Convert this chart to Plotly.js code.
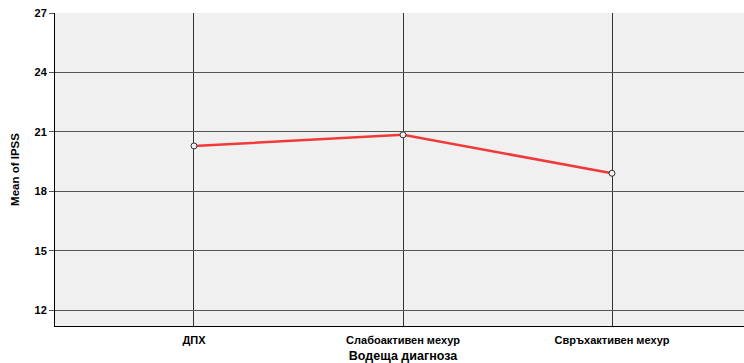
<!DOCTYPE html>
<html><head><meta charset="utf-8">
<script src="https://cdn.plot.ly/plotly-3.0.1.min.js"></script>
<style>html,body{margin:0;padding:0;overflow:hidden;background:#fff;width:744px;height:363px}</style>
</head><body><div id="chart"></div>
<script>
const categories = ["ДПХ", "Слабоактивен мехур", "Свръхактивен мехур"];
const meanIPSS = [20.29, 20.85, 18.91];
const yTicks = [12, 15, 18, 21, 24, 27];

const trace = {
  x: categories,
  y: meanIPSS,
  type: "scatter",
  mode: "lines+markers",
  line: {color: "#f03a3a", width: 2.5},
  marker: {symbol: "circle", size: 6, color: "#f0f0f0", line: {color: "#333", width: 1}},
  hoverinfo: "skip"
};

const layout = {
  width: 751, height: 363,
  margin: {l: 55, r: 0, t: 13, b: 37},
  paper_bgcolor: "#ffffff",
  plot_bgcolor: "#f0f0f0",
  showlegend: false,
  font: {family: "Liberation Sans, Arial, sans-serif", color: "#000"},
  xaxis: {
    type: "category",
    range: [-0.665, 2.665],
    showgrid: true, gridcolor: "#333", gridwidth: 1,
    showline: true, linecolor: "#000", linewidth: 1,
    ticks: "", ticklabelstandoff: 4, tickfont: {size: 11, weight: "bold"},
    title: {text: "Водеща диагноза", font: {size: 12.5, weight: "bold"}, standoff: 6},
    zeroline: false, fixedrange: true
  },
  yaxis: {
    range: [11.2, 27],
    tickvals: yTicks,
    showgrid: true, gridcolor: "#555", gridwidth: 1,
    showline: true, linecolor: "#000", linewidth: 1,
    ticks: "outside", ticklen: 5, tickcolor: "#555",
    tickfont: {size: 11, weight: "bold"},
    title: {text: "Mean of IPSS", font: {size: 11.5, weight: "bold"}, standoff: 12},
    zeroline: false, fixedrange: true
  }
};

Plotly.newPlot("chart", [trace], layout, {displayModeBar: false, staticPlot: true});
</script></body></html>
